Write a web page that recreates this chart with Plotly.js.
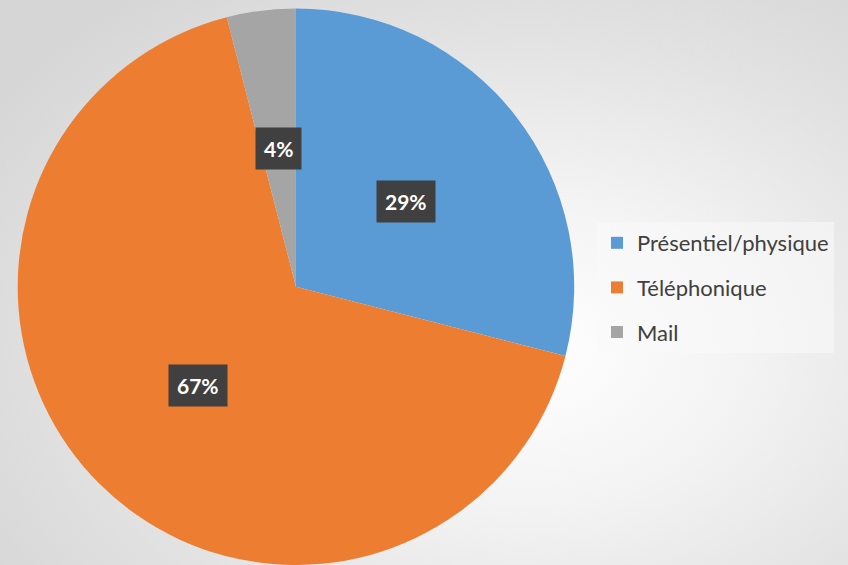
<!DOCTYPE html>
<html>
<head>
<meta charset="utf-8">
<script src="https://cdn.plot.ly/plotly-3.0.1.min.js"></script>
<style>
  html, body { margin: 0; padding: 0; overflow: hidden; }
  body {
    width: 848px; height: 565px;
    background: radial-gradient(ellipse 75% 80% at 62% 62%, #ffffff 0%, #f3f3f3 35%, #e2e2e2 70%, #d6d6d6 100%);
  }
  #plot { width: 848px; height: 565px; }
</style>
</head>
<body>
<div id="plot"></div>
<script>
var labels = ['Présentiel/physique', 'Téléphonique', 'Mail'];
var values = [29, 67, 4];
var colors = ['#5B9BD5', '#ED7D31', '#A5A5A5'];

var W = 848, H = 565;
var dom = {x: [0.02, 0.678], y: [0, 0.985]};

var pie = {
  type: 'pie',
  labels: labels,
  values: values,
  sort: false,
  direction: 'clockwise',
  rotation: 0,
  marker: {colors: colors, line: {width: 0}},
  textinfo: 'none',
  hoverinfo: 'label+percent',
  showlegend: false,
  domain: dom
};

// legend entries (dummy traces so the spacing can be set with tracegroupgap)
var legendTraces = labels.map(function (l, i) {
  return {
    type: 'scatter', mode: 'markers',
    x: [null], y: [null],
    name: l, legendgroup: 'g' + i,
    marker: {symbol: 'square', size: 12, color: colors[i]},
    hoverinfo: 'skip'
  };
});

// data labels at half radius on each slice's mid angle
var total = values.reduce(function (a, b) { return a + b; }, 0);
var cx = (dom.x[0] + dom.x[1]) / 2 * W;
var cy = (1 - (dom.y[0] + dom.y[1]) / 2) * H;
var r = Math.min((dom.x[1] - dom.x[0]) * W, (dom.y[1] - dom.y[0]) * H) / 2;
var annotations = [];
var start = 0;
values.forEach(function (v) {
  var mid = (start + v / 2) / total * 2 * Math.PI;
  start += v;
  var px = cx + 0.5 * r * Math.sin(mid);
  var py = cy - 0.5 * r * Math.cos(mid);
  annotations.push({
    xref: 'paper', yref: 'paper',
    x: px / W, y: 1 - py / H,
    xanchor: 'center', yanchor: 'middle',
    text: '<b>' + Math.round(v / total * 100) + '%</b>',
    showarrow: false,
    borderpad: 8,
    bgcolor: '#404040',
    font: {family: 'Lato, sans-serif', size: 21, color: '#ffffff'}
  });
});

var layout = {
  width: W, height: H,
  margin: {l: 0, r: 0, t: 0, b: 0},
  paper_bgcolor: 'rgba(0,0,0,0)',
  plot_bgcolor: 'rgba(0,0,0,0)',
  xaxis: {visible: false},
  yaxis: {visible: false},
  showlegend: true,
  legend: {
    x: 597 / W, y: 1 - 222 / H,
    xanchor: 'left', yanchor: 'top',
    bgcolor: 'rgba(250,250,250,0.55)',
    font: {family: 'Lato, sans-serif', size: 22, color: '#404040'},
    tracegroupgap: 13,
    traceorder: 'grouped'
  },
  annotations: annotations
};

Plotly.newPlot('plot', [pie].concat(legendTraces), layout, {displayModeBar: false, staticPlot: true});
</script>
</body>
</html>
